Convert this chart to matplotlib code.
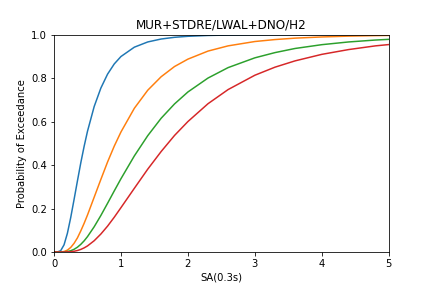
import matplotlib
matplotlib.use("Agg")
import matplotlib.pyplot as plt

sa = [0.0, 0.05, 0.1, 0.15, 0.2, 0.25, 0.3, 0.35, 0.4, 0.45, 0.5, 0.6, 0.7, 0.8, 0.9,
      1.0, 1.2, 1.4, 1.6, 1.8, 2.0, 2.3, 2.6, 3.0, 3.3, 3.6, 4.0, 4.4, 4.8, 5.0]

slight = [0.0, 0.0001, 0.0062, 0.033, 0.086, 0.159, 0.242, 0.327, 0.410, 0.486, 0.555,
          0.669, 0.754, 0.818, 0.865, 0.899, 0.942, 0.966, 0.9795, 0.9874, 0.992,
          0.9959, 0.9977, 0.9989, 0.9994, 0.9996, 0.9998, 0.9999, 1.0, 1.0]
moderate = [0.0, 0.0, 0.0003, 0.0023, 0.0086, 0.021, 0.040, 0.065, 0.097, 0.132, 0.170,
            0.252, 0.334, 0.414, 0.487, 0.552, 0.661, 0.744, 0.806, 0.853, 0.887,
            0.924, 0.948, 0.968, 0.977, 0.9835, 0.989, 0.9928, 0.9951, 0.9959]
extensive = [0.0, 0.0, 0.00005, 0.0005, 0.0021, 0.0059, 0.0124, 0.0221, 0.0352, 0.0513,
             0.0706, 0.116, 0.168, 0.224, 0.281, 0.337, 0.442, 0.535, 0.615, 0.681,
             0.736, 0.800, 0.848, 0.893, 0.917, 0.936, 0.9535, 0.966, 0.9748, 0.978]
complete = [0.0, 0.0, 0.0, 0.0001, 0.0004, 0.0014, 0.0034, 0.0068, 0.0119, 0.0189,
            0.0279, 0.0518, 0.0827, 0.119, 0.160, 0.204, 0.293, 0.381, 0.462, 0.536,
            0.600, 0.682, 0.747, 0.813, 0.850, 0.879, 0.909, 0.931, 0.948, 0.954]

series = [slight, moderate, extensive, complete]
colors = ["#1f77b4", "#ff7f0e", "#2ca02c", "#d62728"]

fig, ax = plt.subplots(figsize=(6, 4), dpi=72)
fig.subplots_adjust(left=0.125, right=0.9, bottom=0.125, top=0.88)
for s, c in zip(series, colors):
    ax.plot(sa, s, color=c)
ax.set_xlim(0, 5)
ax.set_ylim(0, 1)
ax.set_title("MUR+STDRE/LWAL+DNO/H2")
ax.set_xlabel("SA(0.3s)")
ax.set_ylabel("Probability of Exceedance")
fig.savefig("out.png", dpi=72)
